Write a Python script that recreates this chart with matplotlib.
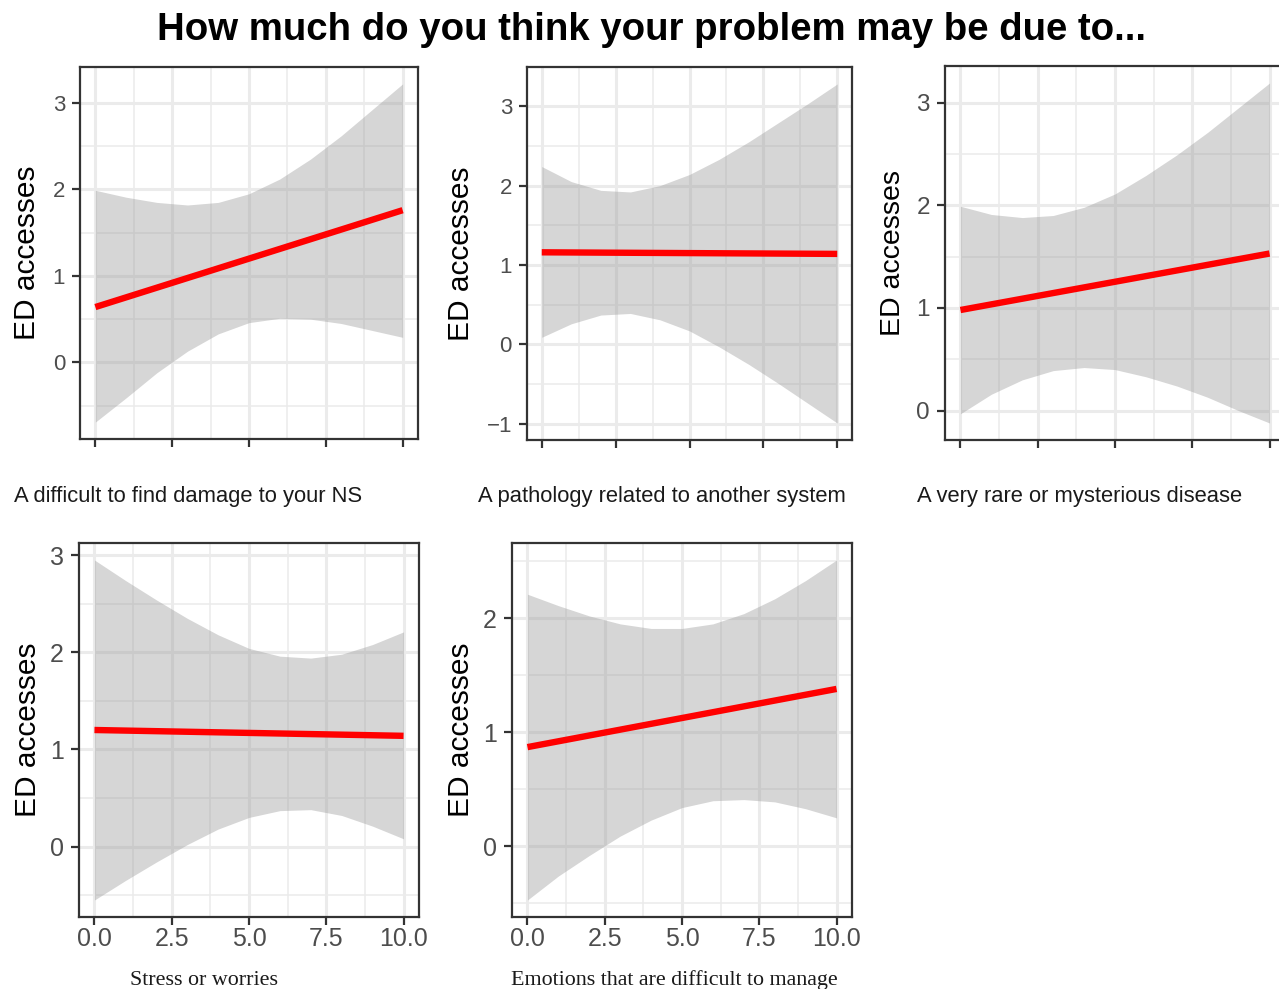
import math

import matplotlib
matplotlib.use("Agg")
import matplotlib.pyplot as plt

plt.rcParams["font.family"] = ["Liberation Sans", "DejaVu Sans"]

# ---- data -------------------------------------------------------------
title = "How much do you think your problem may be due to..."
y_title = "ED accesses"

x_grid = [0, 1, 2, 3, 4, 5, 6, 7, 8, 9, 10]
x_fit = [0, 10]
x_ticks = [0, 2.5, 5, 7.5, 10]
x_tick_labels = ["0.0", "2.5", "5.0", "7.5", "10.0"]

damage_label = "A difficult to find damage to your NS"
damage_fit = [0.64, 1.76]
damage_upper = [1.99, 1.91, 1.85, 1.82, 1.85, 1.95, 2.12, 2.35, 2.62, 2.92, 3.22]
damage_lower = [-0.69, -0.41, -0.12, 0.13, 0.33, 0.46, 0.51, 0.50, 0.45, 0.37, 0.29]

pathology_label = "A pathology related to another system"
pathology_fit = [1.16, 1.14]
pathology_upper = [2.24, 2.05, 1.94, 1.92, 2.00, 2.14, 2.33, 2.55, 2.79, 3.03, 3.28]
pathology_lower = [0.09, 0.26, 0.37, 0.39, 0.31, 0.17, -0.03, -0.25, -0.49, -0.74, -0.99]

rare_label = "A very rare or mysterious disease"
rare_fit = [0.98, 1.53]
rare_upper = [1.99, 1.91, 1.88, 1.90, 1.98, 2.11, 2.29, 2.49, 2.71, 2.95, 3.19]
rare_lower = [-0.03, 0.16, 0.30, 0.39, 0.42, 0.40, 0.33, 0.24, 0.13, 0.00, -0.12]

stress_label = "Stress or worries"
stress_fit = [1.20, 1.14]
stress_upper = [2.95, 2.74, 2.54, 2.35, 2.18, 2.04, 1.96, 1.94, 1.98, 2.08, 2.21]
stress_lower = [-0.55, -0.35, -0.16, 0.02, 0.18, 0.30, 0.37, 0.38, 0.32, 0.21, 0.08]

emotions_label = "Emotions that are difficult to manage"
emotions_fit = [0.87, 1.38]
emotions_upper = [2.21, 2.11, 2.02, 1.95, 1.91, 1.91, 1.95, 2.04, 2.17, 2.33, 2.51]
emotions_lower = [-0.47, -0.26, -0.08, 0.09, 0.23, 0.34, 0.40, 0.41, 0.39, 0.33, 0.25]

# ---- figure -----------------------------------------------------------
W, H = 1279, 989
fig = plt.figure(figsize=(W / 100, H / 100), dpi=100)

GRID = "#EBEBEB"
DARK = "#333333"
TICKTXT = "#4D4D4D"


def panel(box, fit, upper, lower, tick_size, ylab_x, ylab_size, show_xlabels):
    left, top, right, bottom = box
    ax = fig.add_axes([left / W, 1 - bottom / H, (right - left) / W, (bottom - top) / H])
    lo, hi = min(lower), max(upper)
    pad = 0.05 * (hi - lo)
    ymin, ymax = lo - pad, hi + pad
    ax.set_xlim(-0.5, 10.5)
    ax.set_ylim(ymin, ymax)

    ax.fill_between(x_grid, lower, upper, color="#999999", alpha=0.4, lw=0, zorder=2)
    ax.plot(x_fit, fit, color="#FF0000", lw=4.6, solid_capstyle="butt", zorder=3)

    majors = list(range(math.ceil(ymin), math.floor(ymax) + 1))
    minors = [k + 0.5 for k in range(math.floor(ymin) - 1, math.floor(ymax) + 1)
              if ymin < k + 0.5 < ymax]
    ax.set_yticks(majors)
    ax.set_yticks(minors, minor=True)
    ax.set_xticks(x_ticks)
    ax.set_xticks([1.25, 3.75, 6.25, 8.75], minor=True)
    if show_xlabels:
        ax.set_xticklabels(x_tick_labels)

    ax.set_axisbelow(True)
    ax.grid(which="major", color=GRID, lw=2.2)
    ax.grid(which="minor", color=GRID, lw=1.1)
    ax.tick_params(which="minor", length=0)
    ax.tick_params(which="major", length=5.8, width=1.6, color=DARK,
                   labelcolor=TICKTXT, labelsize=tick_size)
    ax.tick_params(axis="y", pad=5.0)
    ax.tick_params(axis="x", pad=1.5, labelbottom=show_xlabels)
    for sp in ax.spines.values():
        sp.set_linewidth(1.6)
        sp.set_color(DARK)

    ax.set_ylabel(y_title, fontsize=ylab_size, color="black", va="center")
    ax.yaxis.set_label_coords((ylab_x - left) / (right - left), 0.5)
    return ax


panel((80, 67, 418, 439), damage_fit, damage_upper, damage_lower, 16, 27, 21.5, False)
panel((527, 67, 852, 440), pathology_fit, pathology_upper, pathology_lower, 16, 461, 21.5, False)
panel((945, 66, 1285, 440), rare_fit, rare_upper, rare_lower, 17.5, 893, 20.5, False)
panel((79, 543, 419, 917), stress_fit, stress_upper, stress_lower, 18, 28, 21.5, True)
panel((512, 543, 852, 917), emotions_fit, emotions_upper, emotions_lower, 18, 461, 21.5, True)

# ---- titles -----------------------------------------------------------
fig.text(651.5 / W, 1 - 40.5 / H, title, ha="center", va="baseline",
         fontsize=27.6, fontweight="bold", color="black")

for text, x in [(damage_label, 14), (pathology_label, 478), (rare_label, 917)]:
    fig.text(x / W, 1 - 502 / H, text, ha="left", va="baseline",
             fontsize=15.8, color="#1A1A1A")

for text, x in [(stress_label, 203.5), (emotions_label, 674)]:
    fig.text(x / W, 1 - 985 / H, text, ha="center", va="baseline",
             fontsize=15.8, family=["Liberation Serif", "DejaVu Serif"], color="#1A1A1A")

fig.savefig("out.png", dpi=100, facecolor="white")
